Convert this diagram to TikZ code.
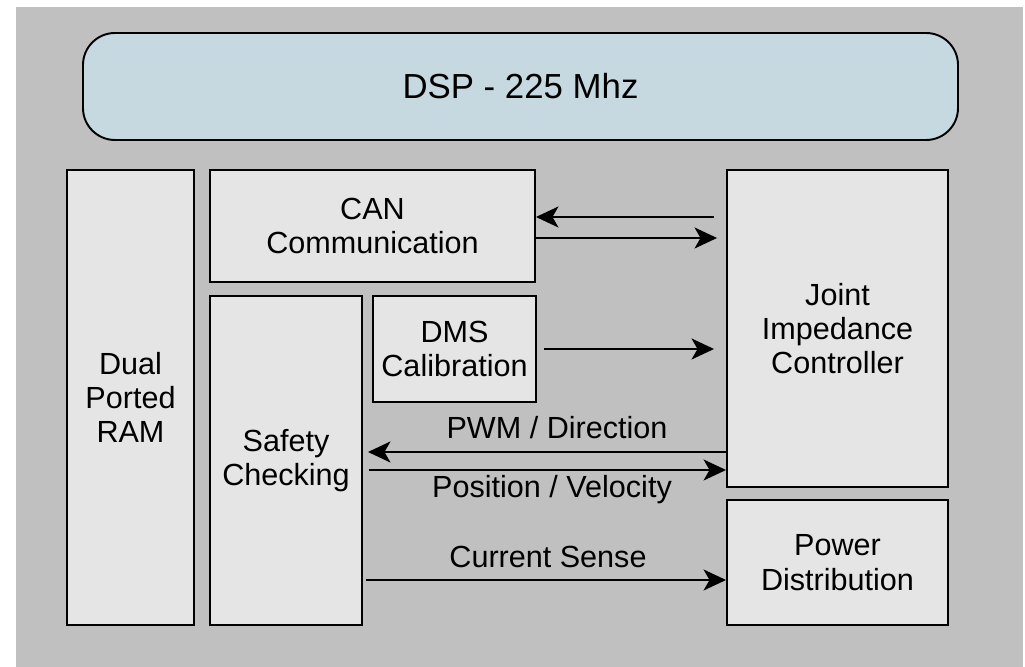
\documentclass[tikz,border=0pt]{standalone}
\usepackage{fontspec}
\setmainfont{Liberation Sans}
\usepackage{xcolor}
\usepackage{tikz}
\usetikzlibrary{arrows.meta}
\definecolor{panelgray}{RGB}{192, 192, 192}
\definecolor{boxgray}{RGB}{229, 229, 229}
\definecolor{dspblue}{RGB}{198, 217, 224}

\begin{document}
\begin{tikzpicture}[
  block/.style={draw, line width=1.1pt, fill=boxgray, align=center, inner sep=0pt,
    font=\fontsize{17.4}{19.5}\selectfont},
  link/.style={line width=1.2pt, -{Stealth[length=0.45cm, width=0.42cm, inset=0.12cm]}},
  tag/.style={font=\fontsize{17.4}{19.5}\selectfont, inner sep=0pt}
]
% Frame
\useasboundingbox (0,0) rectangle (20.5,13.34);
\fill[panelgray] (0.32,0) rectangle (20.46,13.2);

% Nodes
\node[draw, line width=1.1pt, fill=dspblue, rounded corners=0.64cm, minimum width=17.5cm,
  minimum height=2.14cm, font=\fontsize{19.8}{22}\selectfont] (dsp) at (10.41,11.61) {DSP - 225 Mhz};
\node[block, minimum width=2.54cm, minimum height=9.1cm] (ram) at (2.61,5.39) {Dual\\Ported\\RAM};
\node[block, minimum width=6.5cm, minimum height=2.24cm] (can) at (7.45,8.82) {CAN\\Communication};
\node[block, minimum width=3.04cm, minimum height=6.58cm] (safety) at (5.72,4.13) {Safety\\Checking};
\node[block, minimum width=3.26cm, minimum height=2.12cm] (dms) at (9.09,6.36) {DMS\\Calibration};
\node[block, minimum width=4.42cm, minimum height=6.34cm] (joint) at (16.75,6.77) {Joint\\Impedance\\Controller};
\node[block, minimum width=4.42cm, minimum height=2.5cm] (power) at (16.75,2.09) {Power\\Distribution};

% Edges
\draw[link] ([xshift=-0.24cm]joint.west |- 0,9.0) -- (can.east |- 0,9.0);
\draw[link] (can.east |- 0,8.58) -- ([xshift=-0.18cm]joint.west |- 0,8.58);
\draw[link] ([xshift=0.14cm]dms.east) -- ([xshift=-0.24cm]joint.west |- dms.east);
\draw[link] (joint.west |- 0,4.3) -- ([xshift=0.1cm]safety.east |- 0,4.3);
\draw[link] ([xshift=0.12cm]safety.east |- 0,3.94) -- (joint.west |- 0,3.94);
\draw[link] ([xshift=0.06cm]safety.east |- 0,1.74) -- (power.west |- 0,1.74);

% Link labels
\node[tag] (pwm) at (11.14,4.78) {PWM / Direction};
\node[tag] (pos) at (11.04,3.54) {Position / Velocity};
\node[tag] (cur) at (10.96,2.2) {Current Sense};
\end{tikzpicture}
\end{document}
